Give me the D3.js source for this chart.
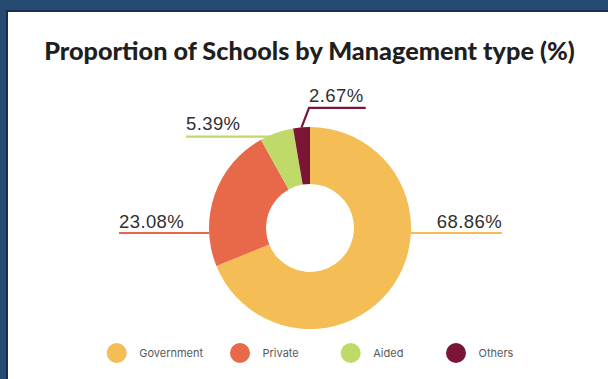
<!DOCTYPE html>
<html>
<head>
<meta charset="utf-8">
<script src="https://cdn.jsdelivr.net/npm/d3@7"></script>
<style>
  html, body { margin: 0; padding: 0; background: #ffffff; }
  svg { display: block; }
</style>
</head>
<body>
<svg id="chart" width="608" height="379"></svg>
<script>
// ---- data ----
const categories = ["Government", "Private", "Aided", "Others"];
const values = [68.86, 23.08, 5.39, 2.67];
const labels = ["68.86%", "23.08%", "5.39%", "2.67%"];
const colors = ["#F4BD55", "#E8694A", "#BFDA68", "#7B1535"];
const titleText = "Proportion of Schools by Management type (%)";

// ---- layout ----
const W = 608, H = 379;
const cx = 310, cy = 228, rOuter = 101, rInner = 44;
const legendX = [116.7, 240, 350.7, 456];
const legendY = 353;

const svg = d3.select("#chart");

// frame
svg.append("rect").attr("x", 0).attr("y", 0).attr("width", W).attr("height", H).attr("fill", "#264a72");
svg.append("rect").attr("x", 6).attr("y", 10).attr("width", W - 6).attr("height", H - 10).attr("fill", "#1c2a58");
svg.append("rect").attr("x", 8).attr("y", 12).attr("width", W - 8).attr("height", H - 12).attr("fill", "#ffffff");

// title
const title = svg.append("text")
  .attr("x", 309.5).attr("y", 60)
  .attr("text-anchor", "middle")
  .attr("font-family", "Lato, 'Open Sans', sans-serif")
  .attr("font-weight", 900)
  .attr("font-size", 22)
  .attr("fill", "#1f1f1f")
  .text(titleText);
const tw = title.node().getComputedTextLength();
title.attr("font-size", 22 * 531 / tw);

// pie
const pie = d3.pie().sort(null).value(d => d)
  .startAngle(0).endAngle(2 * Math.PI);
const arcs = pie(values);
const arc = d3.arc().innerRadius(rInner).outerRadius(rOuter);

const g = svg.append("g").attr("transform", `translate(${cx},${cy})`);
g.selectAll("path.slice").data(arcs).enter().append("path")
  .attr("class", "slice")
  .attr("d", arc)
  .attr("fill", (d, i) => colors[i]);

// leader lines and labels
function outerPoint(d) {
  const a = (d.startAngle + d.endAngle) / 2;
  return [rOuter * Math.sin(a), -rOuter * Math.cos(a)];
}
const labelFont = "'Liberation Sans', Arial, sans-serif";
const leader = [];
{
  const y = 5, x0 = Math.sqrt(rOuter * rOuter - y * y);
  leader.push({ pts: [[x0, y], [192, y]], tx: 192, ty: 0, anchor: "end" });
}
{
  const y = 5, x0 = -Math.sqrt(rOuter * rOuter - y * y);
  leader.push({ pts: [[x0, y], [-191, y]], tx: -191, ty: 0, anchor: "start" });
}
{
  const [ox, oy] = outerPoint(arcs[2]);
  leader.push({ pts: [[ox - 5, oy + 4], [-124, oy + 4]], tx: -124, ty: oy - 2.5, anchor: "start" });
}
{
  const [ox, oy] = outerPoint(arcs[3]);
  leader.push({ pts: [[ox, oy], [ox + 7.5, oy - 19.5], [55.7, oy - 19.5]], tx: ox + 7.5, ty: oy - 25.5, anchor: "start" });
}
const line = d3.line();
leader.forEach((L, i) => {
  g.append("path").attr("d", line(L.pts))
    .attr("fill", "none").attr("stroke", colors[i]).attr("stroke-width", 2.2);
  g.append("text")
    .attr("x", L.tx).attr("y", L.ty)
    .attr("text-anchor", L.anchor)
    .attr("font-family", labelFont)
    .attr("font-size", 18.5)
    .attr("letter-spacing", 0.4)
    .attr("fill", "#303030")
    .text(labels[i]);
});

// legend
const leg = svg.append("g");
categories.forEach((c, i) => {
  leg.append("circle").attr("cx", legendX[i]).attr("cy", legendY).attr("r", 10).attr("fill", colors[i]);
  leg.append("text")
    .attr("x", legendX[i] + 22.5).attr("y", legendY + 4)
    .attr("font-family", "Inter, Roboto, sans-serif")
    .attr("font-size", 11)
    .attr("fill", "#595959")
    .text(c);
});
</script>
</body>
</html>
